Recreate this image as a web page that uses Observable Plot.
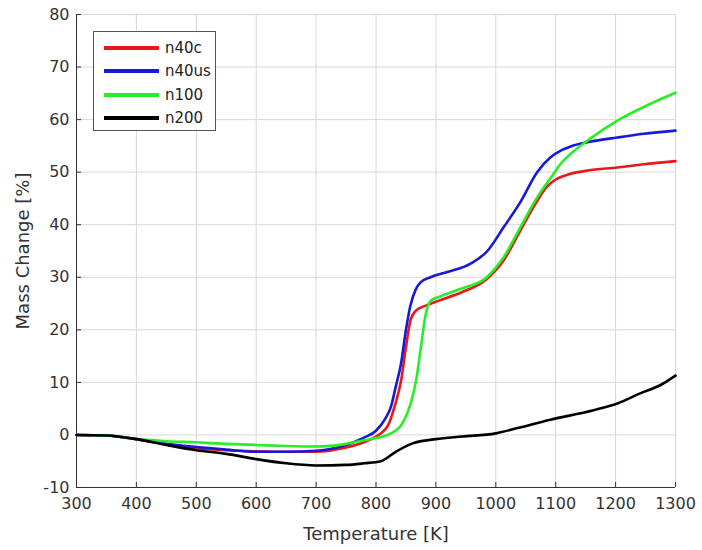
<!DOCTYPE html>
<html>
<head>
<meta charset="utf-8">
<script src="https://cdn.jsdelivr.net/npm/d3@7"></script>
<script src="https://cdn.jsdelivr.net/npm/@observablehq/plot@0.6"></script>
<style>
  html, body { margin: 0; padding: 0; background: #fff; }
  #wrap { position: relative; width: 702px; height: 550px; font-family: "DejaVu Sans", sans-serif; }
  #legend { position: absolute; left: 93px; top: 31px; width: 121px; height: 98px; border: 1px solid #555; background: #fff; }
  .row { position: absolute; left: 0; height: 20px; display: flex; align-items: center; }
  .sw { position: absolute; left: 10px; width: 55px; height: 4px; }
  .lab { position: absolute; left: 71px; font-size: 15px; color: #222; white-space: nowrap; line-height: 20px; }
</style>
</head>
<body>
<div id="wrap"></div>
<script>
const seriesNames = ["n40c", "n40us", "n100", "n200"];
const seriesColors = ["#e81818", "#1818d8", "#28ee28", "#000000"];

const n40cT = [300,350,400,450,500,550,600,650,700,750,780,800,820,831,842,850,858,867,883,906,944,983,1013,1041,1069,1085,1100,1125,1153,1203,1247,1300];
const n40cM = [0,-0.1,-0.8,-1.8,-2.5,-2.9,-3.1,-3.2,-3.2,-2.4,-1.4,-0.3,1.8,5.4,10.4,16.7,22.0,23.7,24.6,25.6,27.2,29.5,33.2,38.9,44.5,47.2,48.6,49.7,50.3,50.9,51.5,52.1];

const n40usT = [300,350,400,450,500,550,600,650,700,750,780,800,815,825,833,842,850,857,866,874,891,919,958,986,1013,1041,1069,1091,1110,1125,1153,1203,1247,1300];
const n40usM = [0,-0.1,-0.8,-1.7,-2.3,-2.8,-3.2,-3.2,-3.0,-1.9,-0.5,0.8,3.0,5.4,9.2,13.7,20.0,24.4,27.6,29.0,30.0,31.0,32.6,35.0,39.5,44.3,50.0,52.8,54.2,54.9,55.7,56.6,57.3,57.9];

const n100T = [300,350,400,450,500,550,600,650,700,750,780,800,825,844,858,867,875,883,892,906,944,983,1013,1041,1069,1091,1110,1125,1153,1203,1247,1300];
const n100M = [0,-0.1,-0.8,-1.2,-1.4,-1.7,-1.9,-2.1,-2.2,-1.7,-1.0,-0.6,0.3,2.2,6.0,10.4,16.7,23.0,25.6,26.3,27.9,29.8,33.8,39.5,45.2,48.8,51.8,53.5,56.0,59.8,62.4,65.1];

const n200T = [300,350,400,450,500,550,600,650,700,750,780,808,833,861,900,944,1000,1036,1091,1163,1203,1241,1275,1300];
const n200M = [0,-0.1,-0.8,-1.9,-2.9,-3.6,-4.6,-5.4,-5.8,-5.7,-5.4,-5.0,-3.2,-1.6,-0.8,-0.3,0.3,1.3,2.9,4.7,6.0,7.9,9.5,11.3];

const xTicks = [300,400,500,600,700,800,900,1000,1100,1200,1300];
const yTicks = [-10,0,10,20,30,40,50,60,70,80];

const allT = [n40cT, n40usT, n100T, n200T];
const allM = [n40cM, n40usM, n100M, n200M];
const rows = [];
seriesNames.forEach((name, i) => {
  allT[i].forEach((t, j) => rows.push({series: name, T: t, M: allM[i][j]}));
});

const fmt = d => String(d);

const chart = Plot.plot({
  width: 702,
  height: 550,
  marginLeft: 76,
  marginRight: 27,
  marginTop: 14,
  marginBottom: 63,
  style: {fontFamily: "DejaVu Sans, sans-serif", fontSize: "16px", color: "#333", background: "#fff"},
  x: {domain: [300, 1300]},
  y: {domain: [-10, 80]},
  color: {domain: seriesNames, range: seriesColors},
  marks: [
    Plot.gridX(xTicks, {stroke: "#d8d8d8", strokeOpacity: 1}),
    Plot.gridY(yTicks, {stroke: "#d8d8d8", strokeOpacity: 1}),
    Plot.axisX(xTicks, {tickSize: -5, tickPadding: 15, stroke: "#333", fill: "#333", fontSize: 16, tickFormat: fmt,
      label: "Temperature [K]", labelAnchor: "center", labelArrow: "none", labelOffset: 52}),
    Plot.axisY(yTicks, {tickSize: -5, tickPadding: 12, stroke: "#333", fill: "#333", fontSize: 16, tickFormat: fmt,
      label: "Mass Change [%]", labelAnchor: "center", labelArrow: "none", labelOffset: 60}),
    Plot.ruleY([-10], {stroke: "#333"}),
    Plot.ruleX([300], {stroke: "#333"}),
    Plot.line(rows, {x: "T", y: "M", z: "series", stroke: "series", strokeWidth: 2.6, curve: "monotone-x"})
  ]
});

const wrap = document.getElementById("wrap");
wrap.appendChild(chart);
chart.querySelectorAll("[aria-label='x-axis label'] text, [aria-label='y-axis label'] text").forEach(t => {
  t.setAttribute("font-size", "18");
  t.style.fontSize = "18px";
});

const legend = document.createElement("div");
legend.id = "legend";
seriesNames.forEach((name, i) => {
  const r = document.createElement("div");
  r.className = "row";
  r.style.top = (6 + i * 23.3) + "px";
  r.style.width = "121px";
  const sw = document.createElement("div");
  sw.className = "sw";
  sw.style.background = seriesColors[i];
  sw.style.top = "8px";
  const lb = document.createElement("div");
  lb.className = "lab";
  lb.textContent = name;
  lb.style.top = "0px";
  r.appendChild(sw);
  r.appendChild(lb);
  legend.appendChild(r);
});
wrap.appendChild(legend);
</script>
</body>
</html>
